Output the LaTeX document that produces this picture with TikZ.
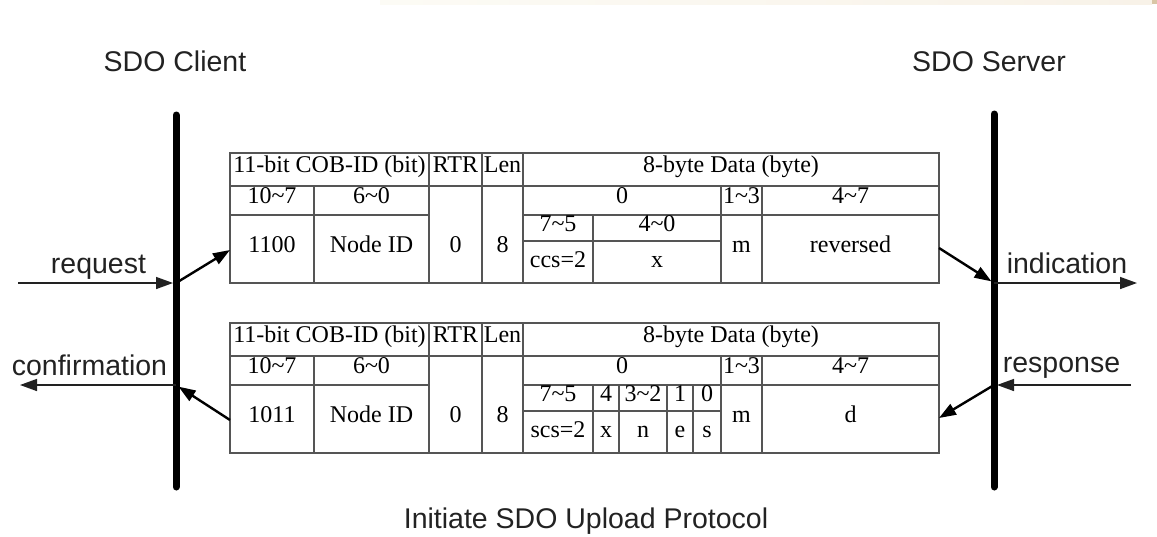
\documentclass[tikz,border=0pt]{standalone}
\usepackage{fontspec}
\setmainfont{Liberation Serif}
\newfontfamily\labelfont{Liberation Sans}
\usetikzlibrary{arrows.meta}
\definecolor{linegray}{HTML}{555555}
\definecolor{textgray}{HTML}{222222}
\definecolor{stripA}{HTML}{FCFBF5}
\definecolor{stripB}{HTML}{F8EEF3}
\definecolor{stripC}{HTML}{F8F2E8}
\definecolor{stripD}{HTML}{D9C6A6}
\tikzset{
  lifeline/.style={line width=7pt, line cap=round},
  gridline/.style={line width=1.8pt, draw=linegray},
  cell/.style={font=\fontsize{24}{26}\selectfont, inner sep=0pt, text height=.68em, text depth=0pt},
  sidetext/.style={font=\labelfont\fontsize{28.5}{30}\selectfont, text=textgray, anchor=base, inner sep=0pt},
  msg/.style={->, line width=1.5pt, draw=textgray},
  hop/.style={->, line width=2.4pt},
}
\begin{document}
\begin{tikzpicture}[x=1pt, y=-1pt, >={Triangle[length=17pt,width=12pt]}]
	\useasboundingbox (0,0) rectangle (1157,536);
	% strip at the top edge
	\shade[left color=stripA, middle color=stripB, right color=stripC] (380,0) rectangle (1152,4);
	\fill[stripD] (1152,0) rectangle (1157,4);
	
	% titles
	\node[sidetext] (client) at (175,71) {SDO Client};
	\node[sidetext] (server) at (989,71) {SDO Server};
	\node[sidetext] (title) at (586,528) {Initiate SDO Upload Protocol};
	
	% lifelines
	\coordinate (c-top) at (176,115);
	\coordinate (c-bot) at (176,487);
	\coordinate (s-top) at (994,114);
	\coordinate (s-bot) at (994,487);
	\draw[lifeline] (c-top) -- (c-bot);
	\draw[lifeline] (s-top) -- (s-bot);
	
	% frame of both messages
	\foreach \dy in {0,170} {
		\draw[gridline] (230,186+\dy) -- (939,186+\dy);
		\draw[gridline] (230,215+\dy) -- (429,215+\dy);
		\draw[gridline] (523,215+\dy) -- (939,215+\dy);
		\draw[gridline] (523,241+\dy) -- (721,241+\dy);
		\draw[gridline] (314,186+\dy) -- (314,283+\dy);
		\draw[gridline] (429,153+\dy) -- (429,283+\dy);
		\draw[gridline] (482,153+\dy) -- (482,283+\dy);
		\draw[gridline] (523,153+\dy) -- (523,283+\dy);
		\draw[gridline] (593,215+\dy) -- (593,283+\dy);
		\draw[gridline] (721,186+\dy) -- (721,283+\dy);
		\draw[gridline] (762,186+\dy) -- (762,283+\dy);
		\draw[gridline] (230,153+\dy) rectangle (939,283+\dy);
	}
	% extra bit fields of the response
	\draw[gridline] (619,385) -- (619,453);
	\draw[gridline] (667,385) -- (667,453);
	\draw[gridline] (693,385) -- (693,453);
	
	% request message
	\node[cell] (t-cob) at (329.5,169.5) {11-bit COB-ID (bit)};
	\node[cell] (t-rtr) at (455.5,169.5) {RTR};
	\node[cell] (t-len) at (502.5,169.5) {Len};
	\node[cell] (t-data) at (731,169.5) {8-byte Data (byte)};
	\node[cell] (t-hi) at (272,200.5) {10\textasciitilde7};
	\node[cell] (t-lo) at (371.5,200.5) {6\textasciitilde0};
	\node[cell] (t-b0) at (622,200.5) {0};
	\node[cell] (t-b13) at (741.5,200.5) {1\textasciitilde3};
	\node[cell] (t-b47) at (850.5,200.5) {4\textasciitilde7};
	\node[cell] (t-fn) at (272,249) {1100};
	\node[cell] (t-id) at (371.5,249) {Node ID};
	\node[cell] (t-rv) at (455.5,249) {0};
	\node[cell] (t-lv) at (502.5,249) {8};
	\node[cell] (t-bits1) at (558,228) {7\textasciitilde5};
	\node[cell] (t-bits2) at (657,228) {4\textasciitilde0};
	\node[cell] (t-ccs) at (558,264) {ccs=2};
	\node[cell] (t-x) at (657,264) {x};
	\node[cell] (t-m) at (741.5,249) {m};
	\node[cell] (t-res) at (850.5,249) {reversed};
	
	% response message
	\node[cell] (b-cob) at (329.5,339.5) {11-bit COB-ID (bit)};
	\node[cell] (b-rtr) at (455.5,339.5) {RTR};
	\node[cell] (b-len) at (502.5,339.5) {Len};
	\node[cell] (b-data) at (731,339.5) {8-byte Data (byte)};
	\node[cell] (b-hi) at (272,370.5) {10\textasciitilde7};
	\node[cell] (b-lo) at (371.5,370.5) {6\textasciitilde0};
	\node[cell] (b-b0) at (622,370.5) {0};
	\node[cell] (b-b13) at (741.5,370.5) {1\textasciitilde3};
	\node[cell] (b-b47) at (850.5,370.5) {4\textasciitilde7};
	\node[cell] (b-fn) at (272,419) {1011};
	\node[cell] (b-id) at (371.5,419) {Node ID};
	\node[cell] (b-rv) at (455.5,419) {0};
	\node[cell] (b-lv) at (502.5,419) {8};
	\node[cell] (b-bits1) at (558,398) {7\textasciitilde5};
	\node[cell] (b-bit4) at (606,398) {4};
	\node[cell] (b-bits2) at (643,398) {3\textasciitilde2};
	\node[cell] (b-bit1) at (680,398) {1};
	\node[cell] (b-bit0) at (707,398) {0};
	\node[cell] (b-scs) at (558,434) {scs=2};
	\node[cell] (b-x) at (606,434) {x};
	\node[cell] (b-n) at (643,434) {n};
	\node[cell] (b-e) at (680,434) {e};
	\node[cell] (b-s) at (707,434) {s};
	\node[cell] (b-m) at (741.5,419) {m};
	\node[cell] (b-d) at (850.5,419) {d};
	
	% service primitives
	\node[sidetext] (req-text) at (98.5,273) {request};
	\node[sidetext] (conf-text) at (89.5,375) {confirmation};
	\node[sidetext] (ind-text) at (1067,273) {indication};
	\node[sidetext] (resp-text) at (1061.5,372) {response};
	
	\coordinate (req-start) at (18,283);
	\coordinate (c-req) at (176,283);
	\coordinate (t-in) at (230,250);
	\coordinate (t-out) at (939,248);
	\coordinate (s-ind) at (994,283);
	\coordinate (ind-end) at (1137,283);
	\coordinate (resp-start) at (1131,385);
	\coordinate (s-resp) at (994,385);
	\coordinate (b-in) at (939,418);
	\coordinate (b-out) at (230,420);
	\coordinate (c-conf) at (176,385);
	\coordinate (conf-end) at (20,385);
	
	\draw[msg, shorten >=3pt] (req-start) -- (c-req);
	\draw[hop] (c-req) -- (t-in);
	\draw[hop, shorten >=3pt] (t-out) -- (s-ind);
	\draw[msg] (s-ind) -- (ind-end);
	\draw[msg, shorten >=3pt] (resp-start) -- (s-resp);
	\draw[hop] (s-resp) -- (b-in);
	\draw[hop, shorten >=3pt] (b-out) -- (c-conf);
	\draw[msg] (c-conf) -- (conf-end);
\end{tikzpicture}
\end{document}
